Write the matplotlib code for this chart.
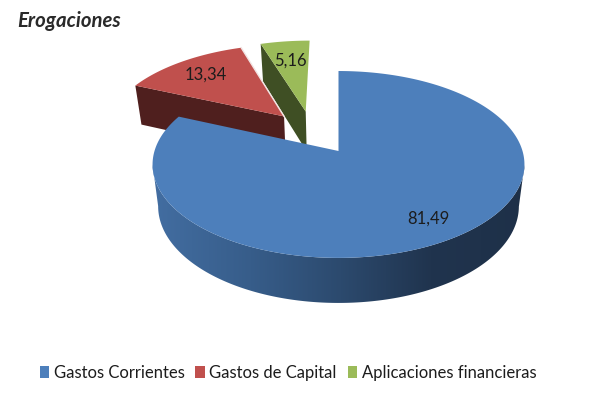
import matplotlib
matplotlib.use('Agg')
import matplotlib.pyplot as plt
import numpy as np
from matplotlib.patches import Patch, Polygon

labels = ['Gastos Corrientes', 'Gastos de Capital', 'Aplicaciones financieras']
values = [81.49, 13.34, 5.16]
value_text = ['81,49', '13,34', '5,16']
title = 'Erogaciones'

plt.rcParams['font.family'] = ['Lato', 'DejaVu Sans']

top_colors = ['#4d7fbb', '#c0504d', '#9bbb59']
side_colors = [None, '#4f1f1e', '#3f4f24']
text_color = '#1c1c1c'

# Pie centre and perspective, all in image pixels
apex_x, apex_y = 338.5, 151
radius_x, radius_y = 184, 91.5
persp = 0.144
depth = 41.3
base_scale = 0.97

# Slice offsets in pie units (sideways, away from viewer)
explode = [(0, 0), (-0.313, 0.40), (-0.19, 0.46)]
label_r = [0.80, 0.75, 0.70]


def project(u, v, bottom=False):
    w = 1 + persp * v
    x = radius_x * u / w
    y = radius_y * v / w
    if bottom:
        return apex_x + x * base_scale, apex_y - y * base_scale + depth / w
    return apex_x + x, apex_y - y


def arc(start, stop, shift, n=80):
    theta = np.radians(np.linspace(start, stop, n))
    return np.sin(theta) + shift[0], np.cos(theta) + shift[1]


fig = plt.figure(figsize=(6, 3.95), dpi=100)
ax = fig.add_axes([0, 0, 1, 1])

edges = np.hstack([0, np.cumsum(values)]) / np.sum(values) * 360

# Exploded slices at the back, green first so that red sits in front of its wall
for i in [2, 1]:
    a0, a1 = edges[i], edges[i + 1]
    du, dv = explode[i]
    corner_u, corner_v = np.sin(np.radians(a0)) + du, np.cos(np.radians(a0)) + dv
    side = [project(corner_u, corner_v), project(du, dv),
            project(du, dv, bottom=True), project(corner_u, corner_v, bottom=True)]
    ax.add_patch(Polygon(side, closed=True, fc=side_colors[i], ec='none', zorder=2))

    u, v = arc(a0, a1, explode[i])
    px, py = project(u, v)
    cx, cy = project(du, dv)
    ax.add_patch(Polygon(np.column_stack([np.r_[cx, px], np.r_[cy, py]]), closed=True,
                         fc=top_colors[i], ec='none', zorder=2))
    if i == 1:
        # thin light rim on the red slice, next to the green wall
        ax.plot([cx, px[-1]], [cy, py[-1]], color='#f2e4e3', lw=1.0, zorder=2)

# Blue wall, shaded from left to right
u, v = arc(edges[0], edges[1], explode[0], n=400)
tx, ty = project(u, v)
bx, by = project(u, v, bottom=True)
shade_x = np.array([150, 250, 340, 430, 530])
shade_rgb = np.array([[0x43, 0x6e, 0xa2], [0x37, 0x5d, 0x8a], [0x2c, 0x4a, 0x6e],
                      [0x20, 0x34, 0x4e], [0x1e, 0x30, 0x48]]) / 255
grid_x = np.arange(shade_x[0], shade_x[-1])
shades = np.column_stack([np.interp(grid_x, shade_x, shade_rgb[:, c]) for c in range(3)])

# Outline runs from rightmost to leftmost point of the top rim, back along the base rim
top_r, top_l = np.argmax(tx), np.argmin(tx)
low_r, low_l = np.argmax(bx), np.argmin(bx)
wall_x = np.r_[tx[top_r:top_l + 1], bx[low_r:low_l + 1][::-1]]
wall_y = np.r_[ty[top_r:top_l + 1], by[low_r:low_l + 1][::-1]]
wall = Polygon(np.column_stack([wall_x, wall_y]), closed=True, transform=ax.transData)
img = ax.imshow(shades[np.newaxis, :, :], extent=(shade_x[0], shade_x[-1], 310, 100),
                aspect='auto', zorder=3)
img.set_clip_path(wall)

cx, cy = project(0, 0)
ax.add_patch(Polygon(np.column_stack([np.r_[cx, tx], np.r_[cy, ty]]), closed=True,
                     fc=top_colors[0], ec='none', zorder=5))

ax.set_xlim(0, 600)
ax.set_ylim(395, 0)
ax.axis('off')

# Value labels
for i, txt in enumerate(value_text):
    mid = np.radians((edges[i] + edges[i + 1]) / 2)
    lx, ly = project(label_r[i] * np.sin(mid) + explode[i][0],
                     label_r[i] * np.cos(mid) + explode[i][1])
    ax.text(lx, ly, txt, ha='center', va='center', fontsize=12, color=text_color, zorder=6)

ax.text(17, 21, title, fontsize=14.7, style='italic', fontweight='bold', color='#2a2a2a',
        ha='left', va='center')

handles = [Patch(fc=c, ec='none', label=l) for c, l in zip(top_colors, labels)]
ax.legend(handles=handles, loc='center', bbox_to_anchor=(288, 373), bbox_transform=ax.transData,
          ncol=3, frameon=False, fontsize=12, handlelength=0.57, handleheight=0.75,
          handletextpad=0.27, columnspacing=0.66, labelcolor=text_color)

fig.savefig('out.png', dpi=100)
